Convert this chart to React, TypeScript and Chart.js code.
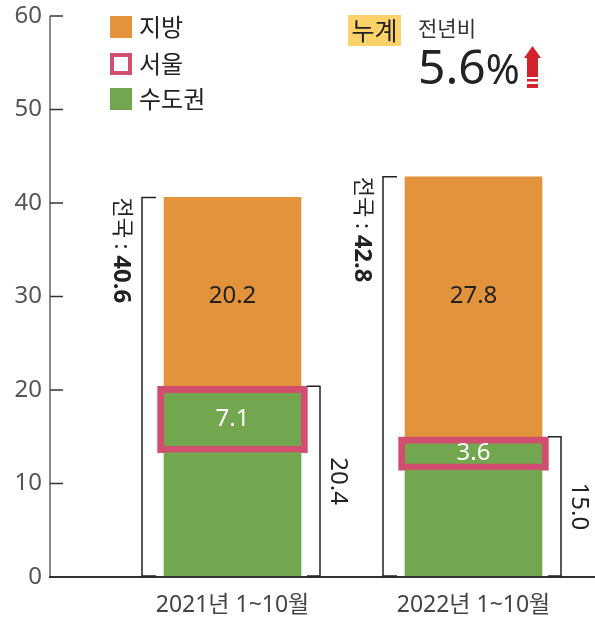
import React, { useEffect, useRef } from 'react';
import { Chart, registerables } from 'chart.js';

Chart.register(...registerables);

// ---- data ----
const CATEGORIES = ['2021년 1~10월', '2022년 1~10월'];
const REGIONAL = [20.2, 27.8]; // 지방
const CAPITAL = [20.4, 15.0]; // 수도권 (incl. 서울)
const SEOUL = [7.1, 3.6]; // 서울
const NATIONAL = [40.6, 42.8]; // 전국
const Y_MIN = 0;
const Y_MAX = 60;
const Y_STEP = 10;
const YOY = '5.6';

// ---- style ----
const ORANGE = '#E3933B';
const GREEN = '#72A74F';
const PINK = '#D24E6E';
const YELLOW = '#FDD26B';
const RED = '#D0232B';
const FONT = "'Noto Sans', 'Noto Sans CJK KR', sans-serif";
const AXIS_X = 50; // pixel position of the drawn value axis line
const PLOT_LEFT = 112; // left edge of the category band area
const X_AXIS_HEIGHT = 43;
const ORANGE_LABEL_AT = 30;

const annotate = {
  id: 'annotate',
  afterDatasetsDraw(chart: any) {
    const { ctx, scales } = chart;
    const y = scales.y;
    const yTopPx = y.getPixelForValue(Y_MAX);
    const yZeroPx = y.getPixelForValue(0);
    ctx.save();
    // value axis line
    ctx.strokeStyle = '#8a8a8a';
    ctx.lineWidth = 2;
    ctx.beginPath();
    ctx.moveTo(AXIS_X, yTopPx);
    ctx.lineTo(AXIS_X, yZeroPx);
    ctx.stroke();
    // baseline extension
    ctx.strokeStyle = '#333';
    ctx.lineWidth = 2;
    ctx.beginPath();
    ctx.moveTo(AXIS_X - 1, yZeroPx);
    ctx.lineTo(chart.width, yZeroPx);
    ctx.stroke();
    // inward tick marks
    ctx.strokeStyle = '#333';
    ctx.lineWidth = 1.5;
    y.ticks.forEach((t: any) => {
      const py = y.getPixelForValue(t.value);
      ctx.beginPath();
      ctx.moveTo(AXIS_X, py);
      ctx.lineTo(AXIS_X + 13, py);
      ctx.stroke();
    });

    const orangeMeta = chart.getDatasetMeta(2);
    const seoulMeta = chart.getDatasetMeta(1);
    CATEGORIES.forEach((_, i) => {
      const bar = orangeMeta.data[i];
      const half = bar.width / 2;
      const left = bar.x - half;
      const right = bar.x + half;
      const yTop = y.getPixelForValue(NATIONAL[i]);
      const y0 = yZeroPx - 1;
      const yCap = y.getPixelForValue(CAPITAL[i]);

      ctx.strokeStyle = '#222';
      ctx.lineWidth = 1.5;
      // left bracket (national)
      const lx = left - 22;
      ctx.beginPath();
      ctx.moveTo(left - 8, yTop);
      ctx.lineTo(lx, yTop);
      ctx.lineTo(lx, y0);
      ctx.lineTo(left - 8, y0);
      ctx.stroke();
      // right bracket (capital area)
      const rx = right + 19;
      ctx.beginPath();
      ctx.moveTo(right + 6, yCap);
      ctx.lineTo(rx, yCap);
      ctx.lineTo(rx, y0);
      ctx.lineTo(right + 6, y0);
      ctx.stroke();

      // rotated national label
      ctx.fillStyle = '#222';
      ctx.save();
      ctx.translate(lx - 21, yTop);
      ctx.rotate(Math.PI / 2);
      ctx.textAlign = 'left';
      ctx.textBaseline = 'middle';
      ctx.font = `22px ${FONT}`;
      const prefix = '전국 : ';
      ctx.fillText(prefix, 0, 0);
      const w = ctx.measureText(prefix).width;
      ctx.font = `bold 24px ${FONT}`;
      ctx.fillText(NATIONAL[i].toFixed(1), w, 0);
      ctx.restore();

      // rotated capital label
      ctx.save();
      ctx.translate(rx + 18, (yCap + y0) / 2);
      ctx.rotate(Math.PI / 2);
      ctx.textAlign = 'center';
      ctx.textBaseline = 'middle';
      ctx.font = `24px ${FONT}`;
      ctx.fillText(CAPITAL[i].toFixed(1), 0, 0);
      ctx.restore();

      // value labels
      ctx.textAlign = 'center';
      ctx.textBaseline = 'middle';
      ctx.font = `24px ${FONT}`;
      ctx.fillStyle = '#222';
      ctx.fillText(REGIONAL[i].toFixed(1), bar.x, y.getPixelForValue(ORANGE_LABEL_AT));
      const sb = seoulMeta.data[i];
      ctx.fillStyle = '#fff';
      ctx.fillText(SEOUL[i].toFixed(1), sb.x, (sb.y + sb.base) / 2);
    });
    ctx.restore();
  },
};

export default function App() {
  const ref = useRef<HTMLCanvasElement | null>(null);

  useEffect(() => {
    if (!ref.current) return;
    const restGreen = CAPITAL.map((v, i) => Math.round((v - SEOUL[i]) * 10) / 10);
    const chart = new Chart(ref.current, {
      type: 'bar',
      data: {
        labels: CATEGORIES,
        datasets: [
          {
            label: '수도권',
            data: restGreen,
            backgroundColor: GREEN,
            borderWidth: 0,
            barThickness: 137,
          },
          {
            label: '서울',
            data: SEOUL,
            backgroundColor: GREEN,
            borderColor: PINK,
            borderWidth: 7,
            borderSkipped: false,
            barThickness: 150,
          },
          {
            label: '지방',
            data: REGIONAL,
            backgroundColor: ORANGE,
            borderWidth: 0,
            barThickness: 137,
          },
        ],
      },
      options: {
        responsive: false,
        animation: false,
        layout: { padding: { top: 16, bottom: 2, left: 0, right: 1 } },
        plugins: { legend: { display: false }, tooltip: { enabled: false } },
        scales: {
          x: {
            type: 'category',
            stacked: true,
            afterFit: (s: any) => {
              s.height = X_AXIS_HEIGHT;
              s.paddingLeft = 0;
              s.paddingRight = 0;
            },
            ticks: {
              color: '#444',
              font: { family: FONT, size: 23 },
              padding: 15,
              autoSkip: false,
              maxRotation: 0,
            },
            grid: { display: false, drawTicks: false },
            border: { display: true, color: '#333', width: 2 },
          },
          y: {
            type: 'linear',
            min: Y_MIN,
            max: Y_MAX,
            stacked: true,
            afterFit: (s: any) => {
              s.width = PLOT_LEFT;
              s.paddingTop = 0;
              s.paddingBottom = 0;
            },
            ticks: {
              stepSize: Y_STEP,
              color: '#555',
              font: { family: FONT, size: 24 },
              padding: PLOT_LEFT - AXIS_X + 8,
            },
            grid: { display: false, drawTicks: false },
            border: { display: false },
          },
        },
      } as any,
      plugins: [annotate],
    });
    return () => chart.destroy();
  }, []);

  const legendItems = [
    { label: '지방', top: 16, style: { background: ORANGE } },
    { label: '서울', top: 53, style: { background: '#fff', border: `4.5px solid ${PINK}`, boxSizing: 'border-box' as const } },
    { label: '수도권', top: 88, style: { background: GREEN } },
  ];

  return (
    <div style={{ position: 'absolute', left: 0, top: 0, width: 595, height: 622, fontFamily: FONT, background: '#fff' }}>
      <canvas ref={ref} width={595} height={622} style={{ display: 'block', width: 595, height: 622 }} />
      {legendItems.map((it) => (
        <React.Fragment key={it.label}>
          <div style={{ position: 'absolute', left: 110, top: it.top, width: 22, height: 22, ...it.style }} />
          <div
            style={{
              position: 'absolute',
              left: 139,
              top: it.top - 4,
              height: 30,
              lineHeight: '30px',
              fontSize: 24,
              color: '#222',
              whiteSpace: 'nowrap',
            }}
          >
            {it.label}
          </div>
        </React.Fragment>
      ))}
      <div
        style={{
          position: 'absolute',
          left: 348,
          top: 15,
          width: 53,
          height: 31,
          background: YELLOW,
          fontSize: 25,
          lineHeight: '31px',
          textAlign: 'center',
          color: '#222',
        }}
      >
        누계
      </div>
      <div style={{ position: 'absolute', left: 418, top: 13, fontSize: 21, lineHeight: '30px', color: '#333', whiteSpace: 'nowrap' }}>
        전년비
      </div>
      <div style={{ position: 'absolute', left: 418, top: 42, fontSize: 48, lineHeight: '48px', color: '#222', whiteSpace: 'nowrap' }}>
        {YOY}
        <span style={{ fontSize: 41 }}>%</span>
      </div>
      <svg style={{ position: 'absolute', left: 524, top: 46 }} width={17} height={43} viewBox="0 0 17 43">
        <polygon points="8.5,0 17,12 13,12 13,31 4,31 4,12 0,12" fill={RED} />
        <rect x={3} y={10} width={11} height={21} fill={RED} />
        <rect x={3} y={33} width={11} height={2.5} fill={RED} />
        <rect x={3} y={38} width={11} height={4} fill={RED} />
      </svg>
    </div>
  );
}
